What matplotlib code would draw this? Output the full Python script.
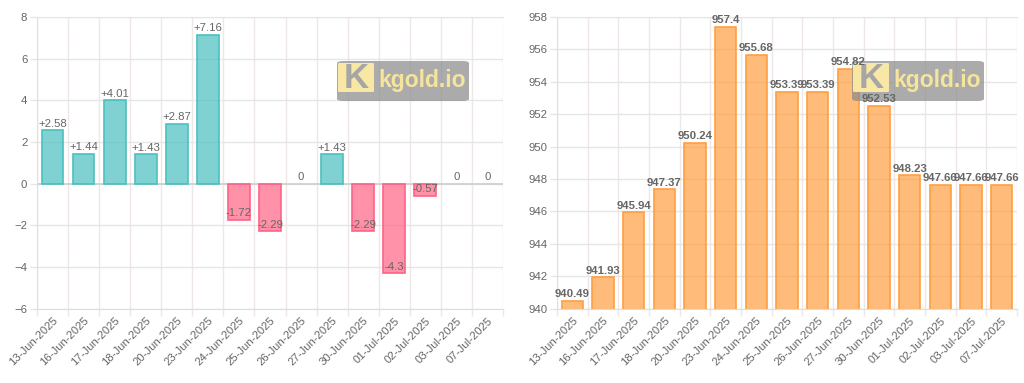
import matplotlib
matplotlib.use("Agg")
import matplotlib.pyplot as plt
from matplotlib.patches import FancyBboxPatch
import numpy as np

plt.rcParams['font.family'] = ['Liberation Sans', 'DejaVu Sans']

dates = ["13-Jun-2025", "16-Jun-2025", "17-Jun-2025", "18-Jun-2025", "20-Jun-2025",
         "23-Jun-2025", "24-Jun-2025", "25-Jun-2025", "26-Jun-2025", "27-Jun-2025",
         "30-Jun-2025", "01-Jul-2025", "02-Jul-2025", "03-Jul-2025", "07-Jul-2025"]
changes = [2.58, 1.44, 4.01, 1.43, 2.87, 7.16, -1.72, -2.29, 0, 1.43, -2.29, -4.3, -0.57, 0, 0]
prices = [940.49, 941.93, 945.94, 947.37, 950.24, 957.4, 955.68, 953.39, 953.39, 954.82,
          952.53, 948.23, 947.66, 947.66, 947.66]

W, H = 1024, 383
fig = plt.figure(figsize=(W / 100, H / 100), dpi=100)

def px_axes(x0, x1, ytop, ybot):
    return fig.add_axes([x0 / W, 1 - ybot / H, (x1 - x0) / W, (ybot - ytop) / H])

ax1 = px_axes(37, 503, 17, 308.7)
ax2 = px_axes(557, 1017, 17, 308.7)

TXT = '#666666'
GRID = '#e6e6e6'
VGRID = '#efe6e8'
FS = 8.2

def style(ax, n):
    x = np.arange(n)
    ax.set_xlim(-0.5, n - 0.5)
    ax.set_xticks(np.arange(n + 1) - 0.5)
    ax.set_xticklabels([])
    ax.set_xticks(x, minor=True)
    ax.set_xticklabels(dates, minor=True, rotation=45, ha='right', rotation_mode='anchor',
                       fontsize=FS, color=TXT)
    ax.tick_params(axis='x', which='minor', length=0, pad=5)
    ax.tick_params(axis='x', which='major', length=5, color=VGRID, width=1)
    ax.tick_params(axis='y', length=5, color=GRID, width=1, labelsize=FS, labelcolor=TXT, pad=2)
    ax.grid(True, axis='x', which='major', color=VGRID, lw=1, zorder=0)
    ax.grid(True, axis='y', color=GRID, lw=1, zorder=0)
    ax.set_axisbelow(True)
    ax.spines['right'].set_visible(False)
    ax.spines['top'].set_color('#f3dfe3')
    ax.spines['left'].set_color('#e0e0e0')
    ax.spines['bottom'].set_color('#dddddd')

def watermark(ax, x0):
    y0, w, h = 61, 132, 40
    ax.add_patch(FancyBboxPatch((x0 / W, 1 - (y0 + h) / H), w / W, h / H,
                                boxstyle='round,pad=0,rounding_size=0.006',
                                transform=fig.transFigure, facecolor='#888888',
                                edgecolor='none', alpha=0.7, zorder=4, clip_on=False))
    ax.add_patch(FancyBboxPatch(((x0 + 1) / W, 1 - (y0 + 31) / H), 36 / W, 29 / H,
                                boxstyle='round,pad=0,rounding_size=0.002',
                                transform=fig.transFigure, facecolor='#fdeba5',
                                edgecolor='none', alpha=0.95, zorder=4.1, clip_on=False))
    ax.text((x0 + 19) / W, 1 - (y0 + 17) / H, "K", ha='center', va='center', fontsize=25,
            fontweight='bold', color='#a6a6a6', zorder=4.2, transform=fig.transFigure,
            clip_on=False)
    ax.text((x0 + 41) / W, 1 - (y0 + 20) / H, "kgold.io", ha='left', va='center',
            fontsize=16.5, fontweight='bold', color='#f5e49c', zorder=4.2,
            transform=fig.transFigure, clip_on=False)

x = np.arange(len(dates))

# Left chart
cols = ['#4bc0c0' if v >= 0 else '#ff6384' for v in changes]
lws = [1.2 if v != 0 else 0 for v in changes]
ax1.bar(x, changes, width=0.7, color=cols, alpha=0.7, zorder=2, linewidth=0)
ax1.bar(x, changes, width=0.7, facecolor='none', edgecolor=cols, linewidth=lws, zorder=3)
ax1.set_ylim(-6, 8)
ax1.set_yticks(np.arange(-6, 9, 2))
style(ax1, len(dates))
ax1.axhline(0, color='#d0d0d0', lw=1.3, zorder=1)
for i, v in enumerate(changes):
    lab = f"+{v:g}" if v > 0 else f"{v:g}"
    ax1.annotate(lab, (i, v), xytext=(0, 1), textcoords='offset points', ha='center',
                 va='bottom', fontsize=FS, color=TXT, zorder=5)
watermark(ax1, 337)

# Right chart
ax2.bar(x, prices, width=0.7, color='#ff9f40', alpha=0.7, zorder=2, linewidth=0)
ax2.bar(x, prices, width=0.7, facecolor='none', edgecolor='#ff9f40', lw=1.2, zorder=3)
ax2.set_ylim(940, 958)
ax2.set_yticks(np.arange(940, 959, 2))
style(ax2, len(dates))
for i, v in enumerate(prices):
    ax2.annotate(f"{v:g}", (i, v), xytext=(0, 1), textcoords='offset points', ha='center',
                 va='bottom', fontsize=FS, color=TXT, fontweight='bold', zorder=6)
watermark(ax2, 852)

fig.savefig('out.png', dpi=100, facecolor='white')
